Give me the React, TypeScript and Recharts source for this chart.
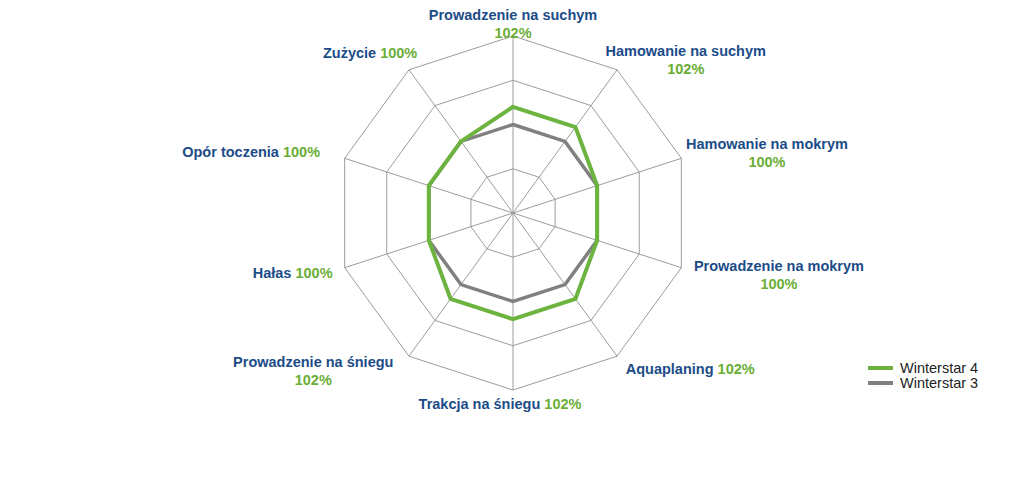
import { Legend, PolarAngleAxis, PolarGrid, PolarRadiusAxis, Radar, RadarChart } from "recharts";

const categories = [
  "Prowadzenie na suchym",
  "Hamowanie na suchym",
  "Hamowanie na mokrym",
  "Prowadzenie na mokrym",
  "Aquaplaning",
  "Trakcja na śniegu",
  "Prowadzenie na śniegu",
  "Hałas",
  "Opór toczenia",
  "Zużycie",
];

const winterstar4 = [102, 102, 100, 100, 102, 102, 102, 100, 100, 100];
const winterstar3 = [100, 100, 100, 100, 100, 100, 100, 100, 100, 100];
const percentLabels = ["102%", "102%", "100%", "100%", "102%", "102%", "102%", "100%", "100%", "100%"];

const series = [
  { key: "w4", label: "Winterstar 4", color: "#6cb33f" },
  { key: "w3", label: "Winterstar 3", color: "#808080" },
];

const data = categories.map((name, i) => ({ name, w4: winterstar4[i], w3: winterstar3[i] }));

const BLUE = "#1c4c88";
const GREEN = "#6aae36";

// label placement relative to the tick point (anchor, dx, dy of first baseline, two lines?)
const labelLayout: Array<{ anchor: "start" | "middle" | "end"; dx: number; dy: number; wrap: boolean }> = [
  { anchor: "middle", dx: 0, dy: -8, wrap: true },
  { anchor: "middle", dx: 64, dy: -7, wrap: true },
  { anchor: "middle", dx: 78, dy: -6.5, wrap: true },
  { anchor: "middle", dx: 90, dy: 1, wrap: true },
  { anchor: "start", dx: 4, dy: 11.5, wrap: false },
  { anchor: "middle", dx: -13, dy: 11, wrap: false },
  { anchor: "middle", dx: -91, dy: 4.5, wrap: true },
  { anchor: "end", dx: -4.5, dy: 7.5, wrap: false },
  { anchor: "end", dx: -17, dy: 1, wrap: false },
  { anchor: "end", dx: 13, dy: -5, wrap: false },
];

function AngleTick(props: any) {
  const { x, y, payload } = props;
  const i = categories.indexOf(payload.value);
  const l = labelLayout[i];
  const tx = x + l.dx;
  const ty = y + l.dy;
  const style = { fontFamily: "'Liberation Sans', Arial, sans-serif", fontSize: 14.5, fontWeight: 700 };
  if (l.wrap) {
    return (
      <text x={tx} y={ty} textAnchor={l.anchor} style={style}>
        <tspan x={tx} fill={BLUE}>{payload.value}</tspan>
        <tspan x={tx} dy={17.5} fill={GREEN}>{percentLabels[i]}</tspan>
      </text>
    );
  }
  return (
    <text x={tx} y={ty} textAnchor={l.anchor} style={style}>
      <tspan fill={BLUE}>{payload.value} </tspan>
      <tspan fill={GREEN}>{percentLabels[i]}</tspan>
    </text>
  );
}

function LegendBox() {
  return (
    <div style={{ fontFamily: "'Liberation Sans', Arial, sans-serif", fontSize: 14.5, color: "#222" }}>
      {series.map((s) => (
        <div key={s.key} style={{ display: "flex", alignItems: "center", height: 15.5 }}>
          <span style={{ display: "inline-block", width: 25, height: 4, background: s.color, marginRight: 7 }} />
          {s.label}
        </div>
      ))}
    </div>
  );
}

export default function App() {
  return (
    <div style={{ width: 1024, height: 483, background: "#fff" }}>
      <style>{"body{margin:0}"}</style>
      <RadarChart width={1024} height={483} data={data} cx={513} cy={213} outerRadius={177}>
        <PolarGrid gridType="polygon" stroke="#9c9c9c" strokeWidth={1} />
        <PolarAngleAxis dataKey="name" tick={AngleTick} tickLine={false} axisLine={false} />
        <PolarRadiusAxis domain={[90, 110]} tickCount={5} axisLine={false} tick={false} />
        <Radar dataKey="w3" name="Winterstar 3" stroke="#808080" strokeWidth={3.5} fill="none" isAnimationActive={false} />
        <Radar dataKey="w4" name="Winterstar 4" stroke="#6cb33f" strokeWidth={4} fill="none" isAnimationActive={false} />
        <Legend content={LegendBox} wrapperStyle={{ position: "absolute", left: 868, top: 360, width: 140 }} />
      </RadarChart>
    </div>
  );
}
